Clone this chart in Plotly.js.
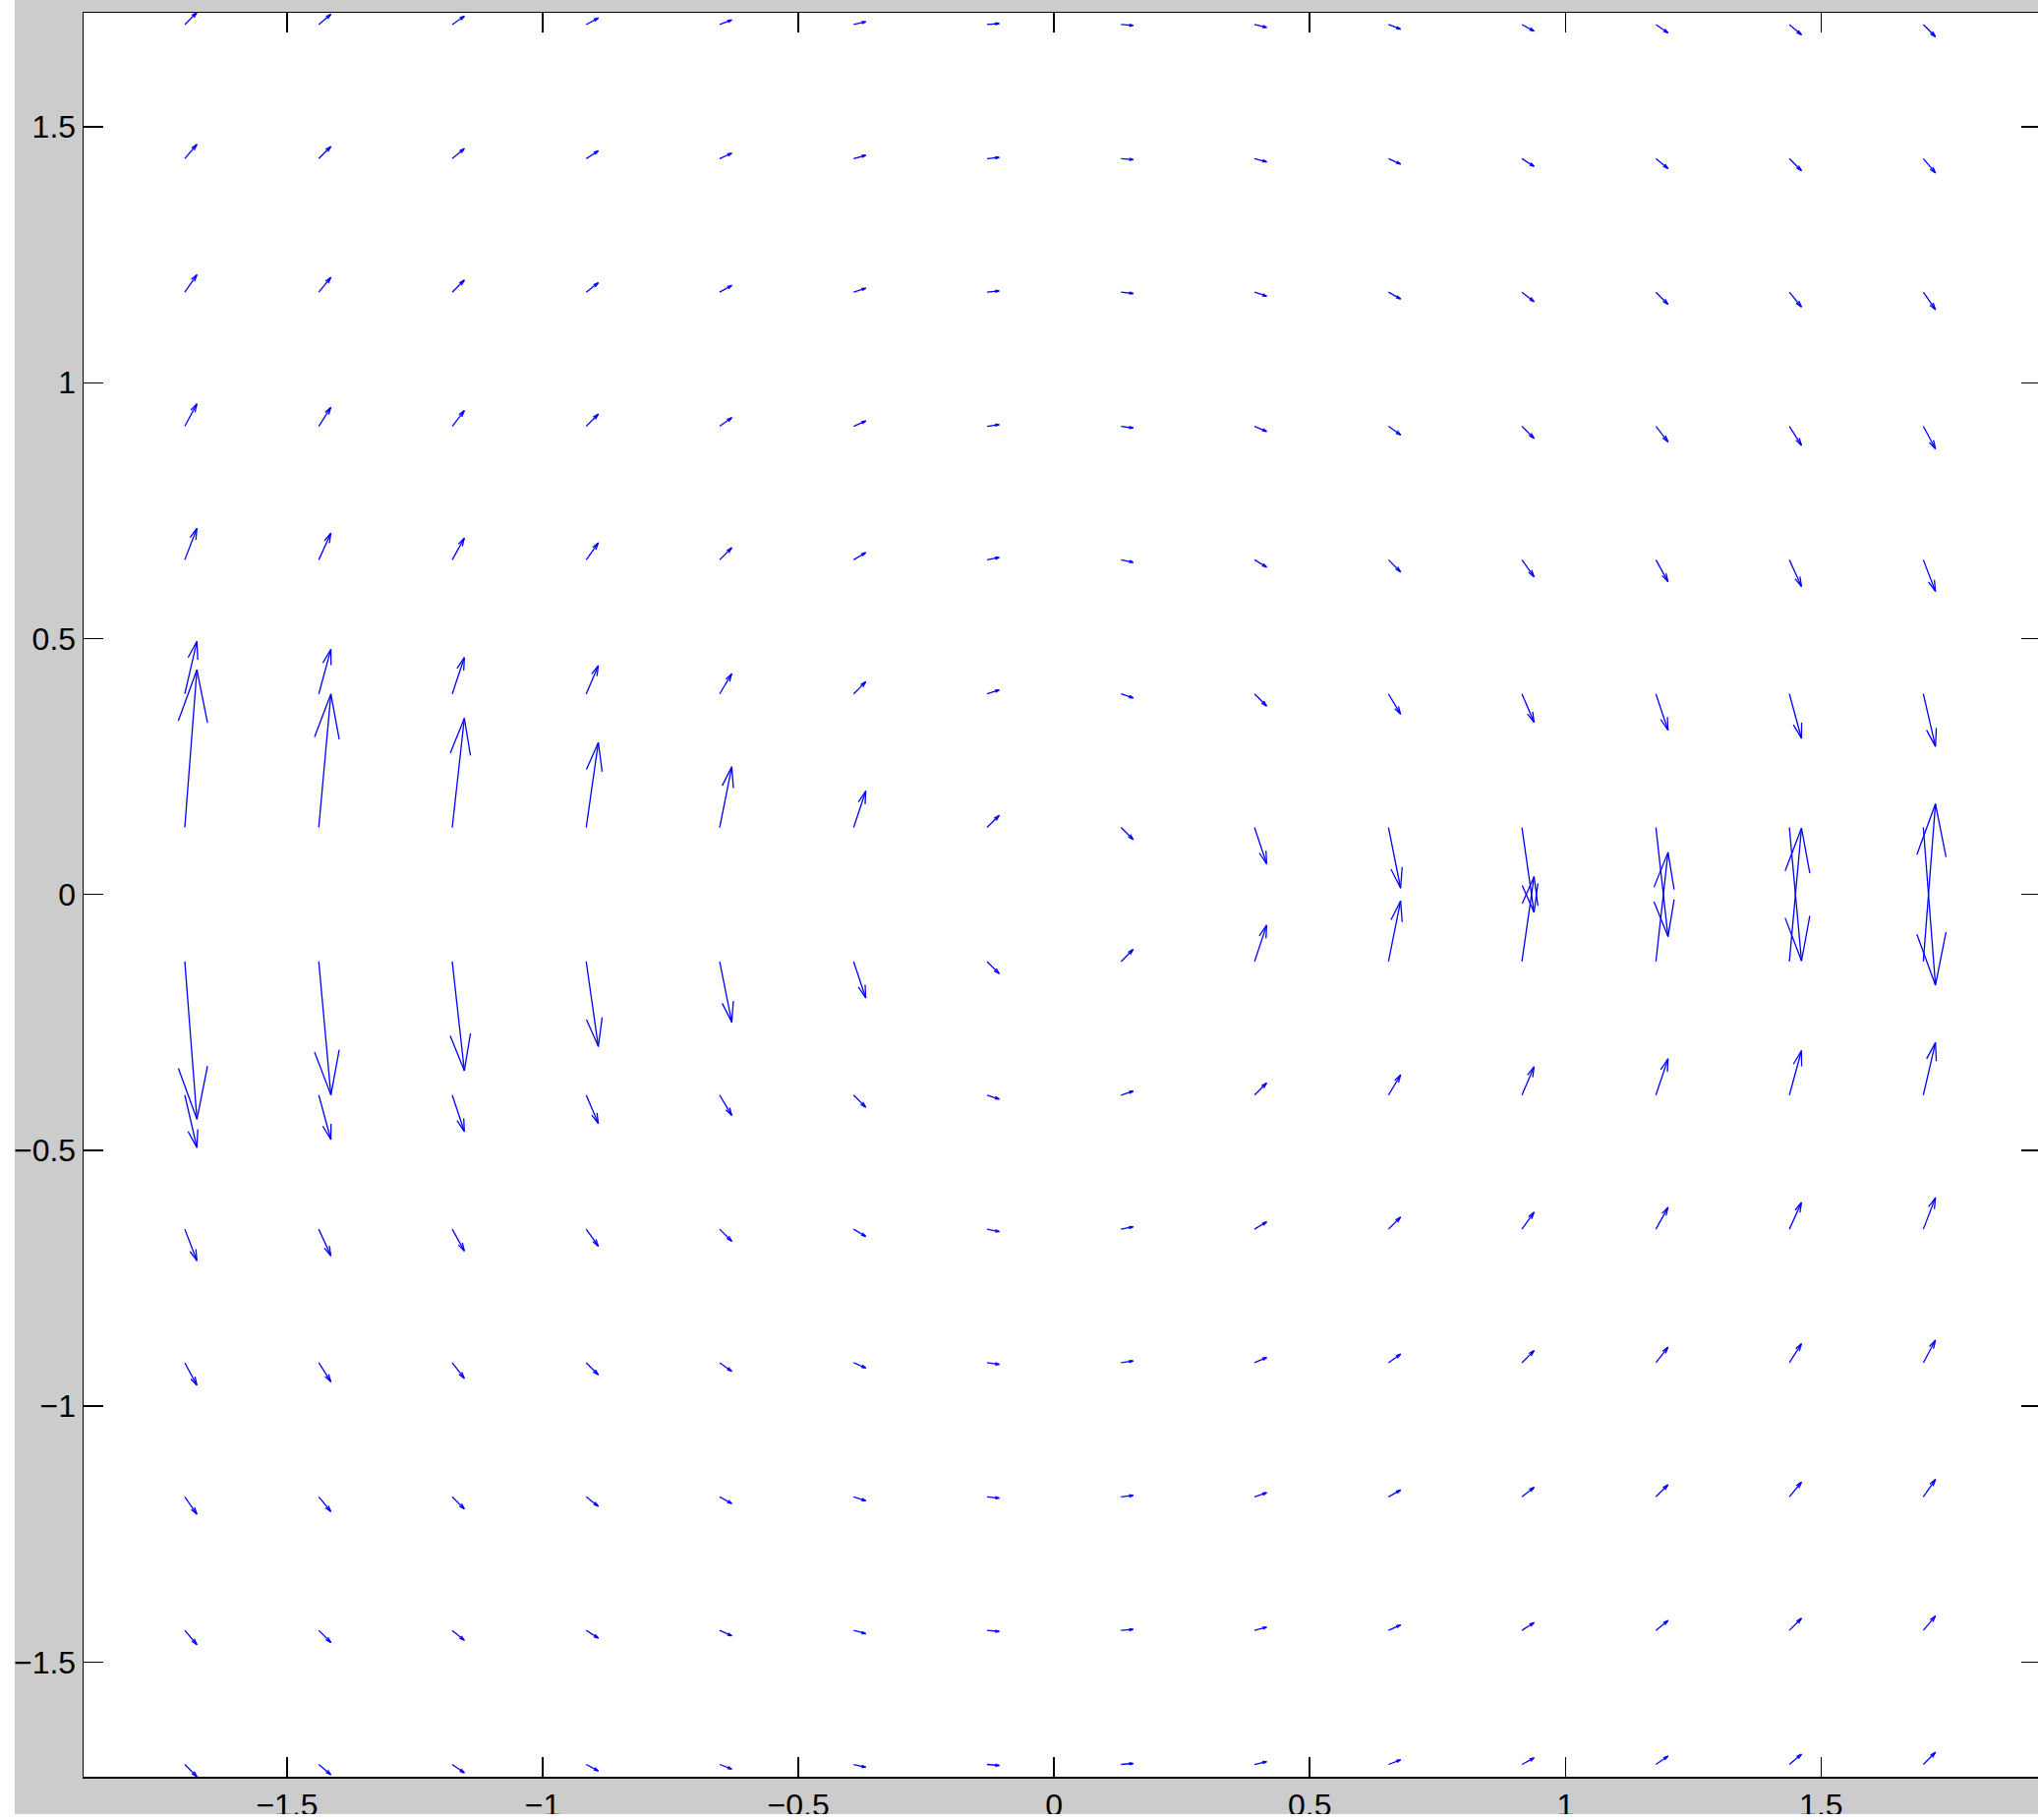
<!DOCTYPE html>
<html>
<head>
<meta charset="utf-8">
<script src="https://cdn.plot.ly/plotly-3.0.1.min.js"></script>
<style>
  html, body { margin: 0; padding: 0; background: #ffffff; overflow: hidden; width: 2073px; height: 1851px; }
  #plot { position: absolute; left: 15px; top: 0px; width: 2071px; height: 1845px; overflow: hidden; }
</style>
</head>
<body>
<div id="plot"></div>
<script>
// Grid of arrow tails (data units)
const xGrid = [-1.7, -1.438, -1.177, -0.915, -0.654, -0.392, -0.131, 0.131, 0.392, 0.654, 0.915, 1.177, 1.438, 1.7];
const yGrid = [-1.7, -1.438, -1.177, -0.915, -0.654, -0.392, -0.131, 0.131, 0.392, 0.654, 0.915, 1.177, 1.438, 1.7];

// Horizontal components, one row per y value (bottom to top)
const uRows = [
  [1,1,1,1,1,1,1,1,1,1,1,1,1,1],
  [1,1,1,1,1,1,1,1,1,1,1,1,1,1],
  [1,1,1,1,1,1,1,1,1,1,1,1,1,1],
  [1,1,1,1,1,1,1,1,1,1,1,1,1,1],
  [1,1,1,1,1,1,1,1,1,1,1,1,1,1],
  [1,1,1,1,1,1,1,1,1,1,1,1,1,1],
  [1,1,1,1,1,1,1,1,1,1,1,1,1,1],
  [1,1,1,1,1,1,1,1,1,1,1,1,1,1],
  [1,1,1,1,1,1,1,1,1,1,1,1,1,1],
  [1,1,1,1,1,1,1,1,1,1,1,1,1,1],
  [1,1,1,1,1,1,1,1,1,1,1,1,1,1],
  [1,1,1,1,1,1,1,1,1,1,1,1,1,1],
  [1,1,1,1,1,1,1,1,1,1,1,1,1,1],
  [1,1,1,1,1,1,1,1,1,1,1,1,1,1]
];

// Vertical components, one row per y value (bottom to top)
const vRows = [
  [-1, -0.85, -0.69, -0.54, -0.38, -0.23, -0.08, 0.08, 0.23, 0.38, 0.54, 0.69, 0.85, 1],
  [-1.18, -1, -0.82, -0.64, -0.45, -0.27, -0.09, 0.09, 0.27, 0.45, 0.64, 0.82, 1, 1.18],
  [-1.44, -1.22, -1, -0.78, -0.56, -0.33, -0.11, 0.11, 0.33, 0.56, 0.78, 1, 1.22, 1.44],
  [-1.86, -1.57, -1.29, -1, -0.71, -0.43, -0.14, 0.14, 0.43, 0.71, 1, 1.29, 1.57, 1.86],
  [-2.6, -2.2, -1.8, -1.4, -1, -0.6, -0.2, 0.2, 0.6, 1, 1.4, 1.8, 2.2, 2.6],
  [-4.33, -3.67, -3, -2.33, -1.67, -1, -0.33, 0.33, 1, 1.67, 2.33, 3, 3.67, 4.33],
  [-13, -11, -9, -7, -5, -3, -1, 1, 3, 5, 7, 9, 11, 13],
  [13, 11, 9, 7, 5, 3, 1, -1, -3, -5, -7, -9, -11, -13],
  [4.33, 3.67, 3, 2.33, 1.67, 1, 0.33, -0.33, -1, -1.67, -2.33, -3, -3.67, -4.33],
  [2.6, 2.2, 1.8, 1.4, 1, 0.6, 0.2, -0.2, -0.6, -1, -1.4, -1.8, -2.2, -2.6],
  [1.86, 1.57, 1.29, 1, 0.71, 0.43, 0.14, -0.14, -0.43, -0.71, -1, -1.29, -1.57, -1.86],
  [1.44, 1.22, 1, 0.78, 0.56, 0.33, 0.11, -0.11, -0.33, -0.56, -0.78, -1, -1.22, -1.44],
  [1.18, 1, 0.82, 0.64, 0.45, 0.27, 0.09, -0.09, -0.27, -0.45, -0.64, -0.82, -1, -1.18],
  [1, 0.85, 0.69, 0.54, 0.38, 0.23, 0.08, -0.08, -0.23, -0.38, -0.54, -0.69, -0.85, -1]
];

const xTicks = [-1.5, -1, -0.5, 0, 0.5, 1, 1.5];
const yTicks = [-1.5, -1, -0.5, 0, 0.5, 1, 1.5];

// ---- quiver autoscale (like MATLAB) ----
const nx = xGrid.length, ny = yGrid.length;
const delx = (Math.max(...xGrid) - Math.min(...xGrid)) / nx;
const dely = (Math.max(...yGrid) - Math.min(...yGrid)) / ny;
const del = delx * delx + dely * dely;
let maxlen = 0;
for (let j = 0; j < ny; j++) for (let i = 0; i < nx; i++) {
  const l = Math.sqrt((uRows[j][i] ** 2 + vRows[j][i] ** 2) / del);
  if (l > maxlen) maxlen = l;
}
const scale = 0.9 / maxlen;
const alpha = 0.33, beta = 0.28;

const lx = [], ly = [];
for (let j = 0; j < ny; j++) {
  for (let i = 0; i < nx; i++) {
    const x0 = xGrid[i], y0 = yGrid[j];
    const u = uRows[j][i] * scale, v = vRows[j][i] * scale;
    const tx = x0 + u, ty = y0 + v;
    // shaft
    lx.push(x0, tx, null); ly.push(y0, ty, null);
    // head
    lx.push(tx - alpha * (u + beta * v), tx, tx - alpha * (u - beta * v), null);
    ly.push(ty - alpha * (v - beta * u), ty, ty - alpha * (v + beta * u), null);
  }
}

const trace = {
  type: 'scatter', mode: 'lines', x: lx, y: ly,
  line: { color: '#0000ff', width: 1.3 },
  hoverinfo: 'skip', showlegend: false
};

const axisCommon = {
  showgrid: false, zeroline: false,
  showline: true, linecolor: '#000000', linewidth: 1.5,
  mirror: 'ticks', ticks: 'inside', ticklen: 20, tickwidth: 1.5, tickcolor: '#000000',
  tickfont: { family: 'Liberation Sans, Arial, sans-serif', size: 32, color: '#000000' }
};

const layout = {
  width: 2071, height: 1845,
  margin: { l: 70, r: 10, t: 13, b: 38, pad: 0 },
  paper_bgcolor: '#cccccc', plot_bgcolor: '#ffffff',
  showlegend: false,
  xaxis: Object.assign({}, axisCommon, { range: [-1.898, 1.930], tickvals: xTicks, autorange: false }),
  yaxis: Object.assign({}, axisCommon, { range: [-1.724, 1.723], tickvals: yTicks, autorange: false })
};

Plotly.newPlot('plot', [trace], layout, { staticPlot: true, displayModeBar: false });
</script>
</body>
</html>
